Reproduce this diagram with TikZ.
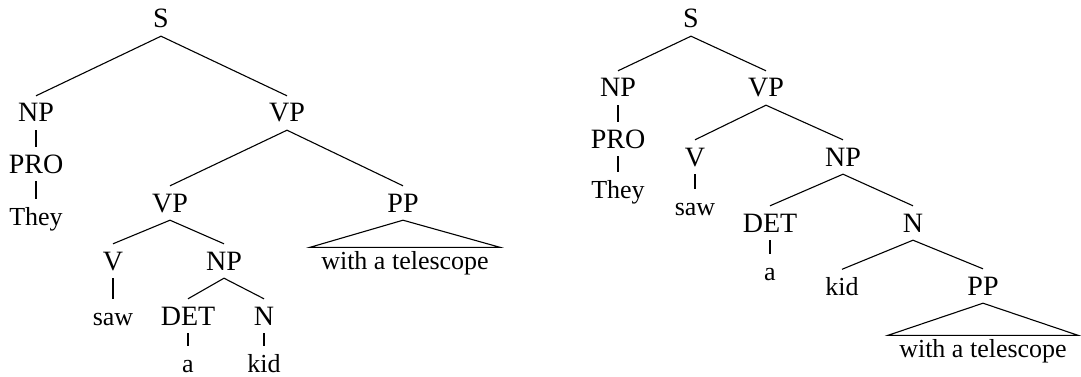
\documentclass[tikz,border=0pt]{standalone}
\usepackage{fontspec}
\setmainfont{Liberation Serif}
\begin{document}
\begin{tikzpicture}[x=1pt,y=-1pt,
  lab/.style={font=\fontsize{28}{32}\selectfont, text=black, text height=18pt, text depth=0pt,
              inner xsep=1pt, inner ysep=8pt, anchor=base},
  wrd/.style={lab, font=\fontsize{26}{30}\selectfont, text height=17.5pt},
  phr/.style={wrd, inner xsep=11pt, inner ysep=4pt},
  br/.style={draw=black, line width=1.1pt},
  tri/.style={draw=black, line width=1.1pt, line join=miter}]
\useasboundingbox (0,0) rectangle (1081,377);
% ---------- left tree ----------
\node[lab] (lS)   at (161,28)  {S};
\node[lab] (lNP)  at (36,122)  {NP};
\node[lab] (lVP)  at (287,122) {VP};
\node[lab] (lPRO) at (36,173)  {PRO};
\node[wrd] (lThey) at (36,225) {They};
\node[lab] (lVPb) at (170,212) {VP};
\node[lab] (lPP)  at (403,212) {PP};
\node[lab] (lV)   at (113,270) {V};
\node[lab] (lNPb) at (224,270) {NP};
\node[wrd] (lsaw) at (113,325) {saw};
\node[lab] (lDET) at (188,325) {DET};
\node[lab] (lN)   at (264,325) {N};
\node[wrd] (la)   at (188,372) {a};
\node[wrd] (lkid) at (264,372) {kid};
\node[phr] (lwt)  at (405,269) {with a telescope};
\draw[br] (lS.south) -- (lNP.north);
\draw[br] (lS.south) -- (lVP.north);
\draw[br] (lNP.south) -- (lPRO.north);
\draw[br] (lPRO.south) -- (lThey.north);
\draw[br] (lVP.south) -- (lVPb.north);
\draw[br] (lVP.south) -- (lPP.north);
\draw[br] (lVPb.south) -- (lV.north);
\draw[br] (lVPb.south) -- (lNPb.north);
\draw[br] (lV.south) -- (lsaw.north);
\draw[br] (lNPb.south) -- (lDET.north);
\draw[br] (lNPb.south) -- (lN.north);
\draw[br] (lDET.south) -- (la.north);
\draw[br] (lN.south) -- (lkid.north);
\draw[tri] (lPP.south) -- (lwt.north east) -- (lwt.north west) -- cycle;
% ---------- right tree ----------
\node[lab] (rS)   at (691,28)  {S};
\node[lab] (rNP)  at (618,97)  {NP};
\node[lab] (rVP)  at (766,97)  {VP};
\node[lab] (rPRO) at (618,148) {PRO};
\node[wrd] (rThey) at (618,198) {They};
\node[lab] (rV)   at (695,166) {V};
\node[lab] (rNPb) at (843,166) {NP};
\node[wrd] (rsaw) at (695,215) {saw};
\node[lab] (rDET) at (770,232) {DET};
\node[lab] (rN)   at (913,232) {N};
\node[wrd] (ra)   at (770,280) {a};
\node[wrd] (rkid) at (842,295) {kid};
\node[lab] (rPP)  at (983,295) {PP};
\node[phr] (rwt)  at (983,357) {with a telescope};
\draw[br] (rS.south) -- (rNP.north);
\draw[br] (rS.south) -- (rVP.north);
\draw[br] (rNP.south) -- (rPRO.north);
\draw[br] (rPRO.south) -- (rThey.north);
\draw[br] (rVP.south) -- (rV.north);
\draw[br] (rVP.south) -- (rNPb.north);
\draw[br] (rV.south) -- (rsaw.north);
\draw[br] (rNPb.south) -- (rDET.north);
\draw[br] (rNPb.south) -- (rN.north);
\draw[br] (rDET.south) -- (ra.north);
\draw[br] (rN.south) -- (rkid.north);
\draw[br] (rN.south) -- (rPP.north);
\draw[tri] (rPP.south) -- (rwt.north east) -- (rwt.north west) -- cycle;
\end{tikzpicture}
\end{document}
